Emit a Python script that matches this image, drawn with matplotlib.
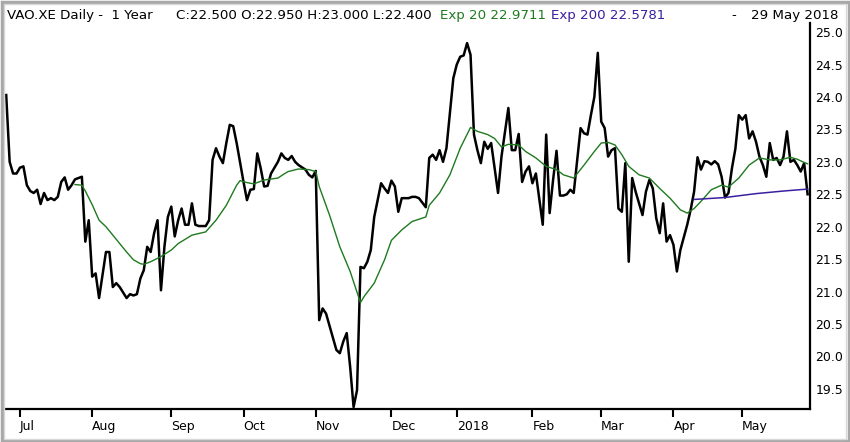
import matplotlib
matplotlib.use('Agg')
import matplotlib.pyplot as plt
from matplotlib.patches import Rectangle

# trading-day index (0 = 27 Jun 2017) and daily close
day = [0, 1, 2, 3, 4, 5, 6, 7, 8, 9, 10, 11, 12, 13, 14, 15, 16, 17, 18, 19,
       20, 21, 22, 23, 24, 25, 26, 27, 29, 30, 31, 32, 33, 35, 36, 37, 38, 39,
       40, 41, 42, 43, 44, 45, 46, 47, 48, 49, 50, 51, 52, 53, 54, 55, 56, 58,
       59, 60, 61, 62, 63, 64, 65, 66, 67, 69, 70, 71, 72, 73, 74, 75, 76, 77,
       79, 80, 81, 82, 83, 84, 85, 87, 88, 89, 90, 91, 92, 93, 96, 97, 98, 99,
       100, 101, 102, 103, 104, 105, 106, 107, 109, 110, 111, 112, 113, 114,
       115, 117, 118, 119, 120, 122, 123, 124, 125, 126, 127, 128, 130, 131,
       132, 133, 134, 135, 136, 137, 138, 139, 140, 141, 142, 143, 144, 146,
       147, 148, 149, 150, 151, 152, 153, 154, 156, 157, 158, 159, 160, 161,
       162, 163, 164, 165, 167, 168, 169, 170, 171, 172, 173, 174, 175, 176,
       177, 178, 179, 180, 181, 182, 183, 185, 186, 187, 188, 189, 190, 191,
       192, 193, 194, 195, 196, 198, 199, 200, 201, 202, 203, 204, 205, 206,
       207, 208, 209, 210, 211, 212, 213, 214, 215, 216, 217, 218, 219, 220,
       221, 222, 223, 224, 225, 226, 227, 228, 229, 230, 231, 232, 233]
close = [24.03, 23.00, 22.82, 22.82, 22.91, 22.93, 22.64, 22.55, 22.52, 22.57,
         22.35, 22.52, 22.41, 22.44, 22.41, 22.46, 22.69, 22.76, 22.57, 22.64,
         22.73, 22.75, 22.77, 21.77, 22.10, 21.23, 21.28, 20.90, 21.61, 21.61,
         21.07, 21.13, 21.07, 20.90, 20.96, 20.94, 20.96, 21.20, 21.33, 21.69,
         21.61, 21.90, 22.10, 21.02, 21.69, 22.15, 22.31, 21.85, 22.10, 22.28,
         22.03, 22.03, 22.36, 22.03, 22.01, 22.01, 22.10, 23.03, 23.21, 23.08,
         22.98, 23.29, 23.57, 23.55, 23.29, 22.69, 22.41, 22.57, 22.58, 23.13,
         22.90, 22.62, 22.63, 22.82, 23.00, 23.13, 23.06, 23.03, 23.09, 23.00,
         22.95, 22.88, 22.80, 22.76, 22.86, 20.56, 20.74, 20.66, 20.10, 20.05,
         20.23, 20.36, 19.84, 19.22, 19.48, 21.38, 21.36, 21.46, 21.64, 22.15,
         22.67, 22.59, 22.52, 22.71, 22.62, 22.23, 22.44, 22.44, 22.46, 22.46,
         22.44, 22.30, 23.06, 23.11, 23.03, 23.18, 23.00, 23.21, 24.29, 24.50,
         24.62, 24.64, 24.83, 24.65, 23.42, 23.18, 22.98, 23.31, 23.20, 23.29,
         22.90, 22.52, 23.08, 23.83, 23.18, 23.18, 23.43, 22.69, 22.85, 22.93,
         22.67, 22.82, 22.03, 23.42, 22.21, 22.72, 23.17, 22.48, 22.48, 22.50,
         22.57, 22.52, 23.52, 23.44, 23.42, 23.72, 24.00, 24.68, 23.62, 23.52,
         23.08, 23.18, 23.21, 22.28, 22.23, 22.98, 21.46, 22.75, 22.54, 22.18,
         22.54, 22.72, 22.59, 22.13, 21.90, 22.36, 21.77, 21.87, 21.72, 21.31,
         21.64, 22.03, 22.26, 22.54, 23.07, 22.88, 23.01, 23.00, 22.96, 23.01,
         22.96, 22.77, 22.45, 22.52, 22.90, 23.20, 23.72, 23.65, 23.72, 23.36,
         23.47, 23.31, 23.08, 22.95, 22.77, 23.29, 23.03, 23.06, 22.95, 23.08,
         23.47, 23.00, 23.03, 22.95, 22.85, 22.98, 22.50]

# exponential averages
ema20_day = [20, 22, 23, 25, 27, 29, 31, 33, 35, 37, 39, 40, 42, 45, 48, 50,
             54, 58, 61, 64, 67, 68, 70, 72, 75, 79, 81, 82, 85, 88, 90, 91,
             94, 97, 100, 103, 104, 107, 110, 112, 115, 118, 122, 123, 126,
             129, 132, 135, 137, 140, 142, 144, 146, 149, 151, 154, 157, 160,
             162, 165, 168, 171, 173, 175, 177, 179, 181, 184, 187, 190, 193,
             196, 198, 200, 202, 205, 208, 210, 213, 216, 219, 222, 225, 228,
             230, 232, 233]
ema20 = [22.65, 22.64, 22.55, 22.34, 22.10, 22.00, 21.87, 21.74, 21.61, 21.49,
         21.43, 21.42, 21.46, 21.54, 21.64, 21.74, 21.87, 21.92, 22.10, 22.33,
         22.64, 22.71, 22.68, 22.66, 22.72, 22.75, 22.82, 22.85, 22.89, 22.88,
         22.85, 22.62, 22.18, 21.69, 21.31, 20.83, 20.92, 21.13, 21.49, 21.79,
         21.95, 22.08, 22.15, 22.33, 22.52, 22.80, 23.21, 23.53, 23.47, 23.42,
         23.36, 23.23, 23.27, 23.26, 23.16, 23.06, 22.93, 22.88, 22.80, 22.75,
         22.95, 23.16, 23.29, 23.30, 23.26, 23.11, 22.93, 22.80, 22.75, 22.59,
         22.44, 22.26, 22.21, 22.28, 22.39, 22.57, 22.64, 22.61, 22.75, 22.95,
         23.06, 23.03, 23.03, 23.07, 23.04, 22.99, 22.97]
ema200_day = [200, 209, 218, 226, 233]
ema200 = [22.42, 22.45, 22.51, 22.55, 22.58]

month_day = [4, 25, 48, 69, 90, 112, 131, 153, 173, 194, 214]
month_lbl = ['Jul', 'Aug', 'Sep', 'Oct', 'Nov', 'Dec', '2018', 'Feb', 'Mar', 'Apr', 'May']
price_ticks = [19.5, 20.0, 20.5, 21.0, 21.5, 22.0, 22.5, 23.0, 23.5, 24.0, 24.5, 25.0]

W, H = 850, 442
green = '#1f7a1f'
purple = '#3b1fa0'

fig = plt.figure(figsize=(W / 100, H / 100), dpi=100)
ax = fig.add_axes([5 / W, (H - 409) / H, 805 / W, (409 - 23) / H])

ax.plot(day, close, color='black', lw=1.8, solid_joinstyle='round')
ax.plot(ema20_day, ema20, color=green, lw=1.0)
ax.plot(ema200_day, ema200, color=purple, lw=1.1)

ax.set_xlim(-0.35, 233.7)
ax.set_ylim(19.19, 25.14)

ax.spines['top'].set_visible(False)
ax.spines['left'].set_visible(False)
for s in ('right', 'bottom'):
    ax.spines[s].set_linewidth(1.6)
    ax.spines[s].set_color('black')

ax.yaxis.tick_right()
ax.set_yticks(price_ticks, ['%.1f' % v for v in price_ticks])
ax.tick_params(axis='y', length=0, pad=4, labelsize=9)

ax.set_xticks(month_day, month_lbl)
ax.tick_params(axis='x', direction='out', length=6, width=1.5, pad=2, labelsize=9)
for lbl in ax.get_xticklabels():
    lbl.set_ha('left')

# header
yb = 1 - 19 / H
fs = 9.6
fig.text(7 / W, yb, 'VAO.XE Daily -  1 Year', fontsize=fs, va='baseline')
fig.text(176 / W, yb, 'C:22.500 O:22.950 H:23.000 L:22.400', fontsize=fs, va='baseline')
fig.text(440 / W, yb, 'Exp 20 22.9711', fontsize=fs, va='baseline', color=green)
fig.text(551 / W, yb, 'Exp 200 22.5781', fontsize=fs, va='baseline', color=purple)
fig.text(731 / W, yb, '-', fontsize=fs, va='baseline')
fig.text(838 / W, yb, '29 May 2018', fontsize=fs, va='baseline', ha='right')

# window frame
fig.patches.append(Rectangle((1.5 / W, 1.5 / H), (W - 3) / W, (H - 3) / H,
                             transform=fig.transFigure, fill=False,
                             edgecolor='#a8a8a8', lw=2.5))
fig.patches.append(Rectangle((4 / W, 3.5 / H), (W - 8) / W, (H - 7) / H,
                             transform=fig.transFigure, fill=False,
                             edgecolor='#d8d8d8', lw=1.0))

fig.savefig('out.png', dpi=100)
